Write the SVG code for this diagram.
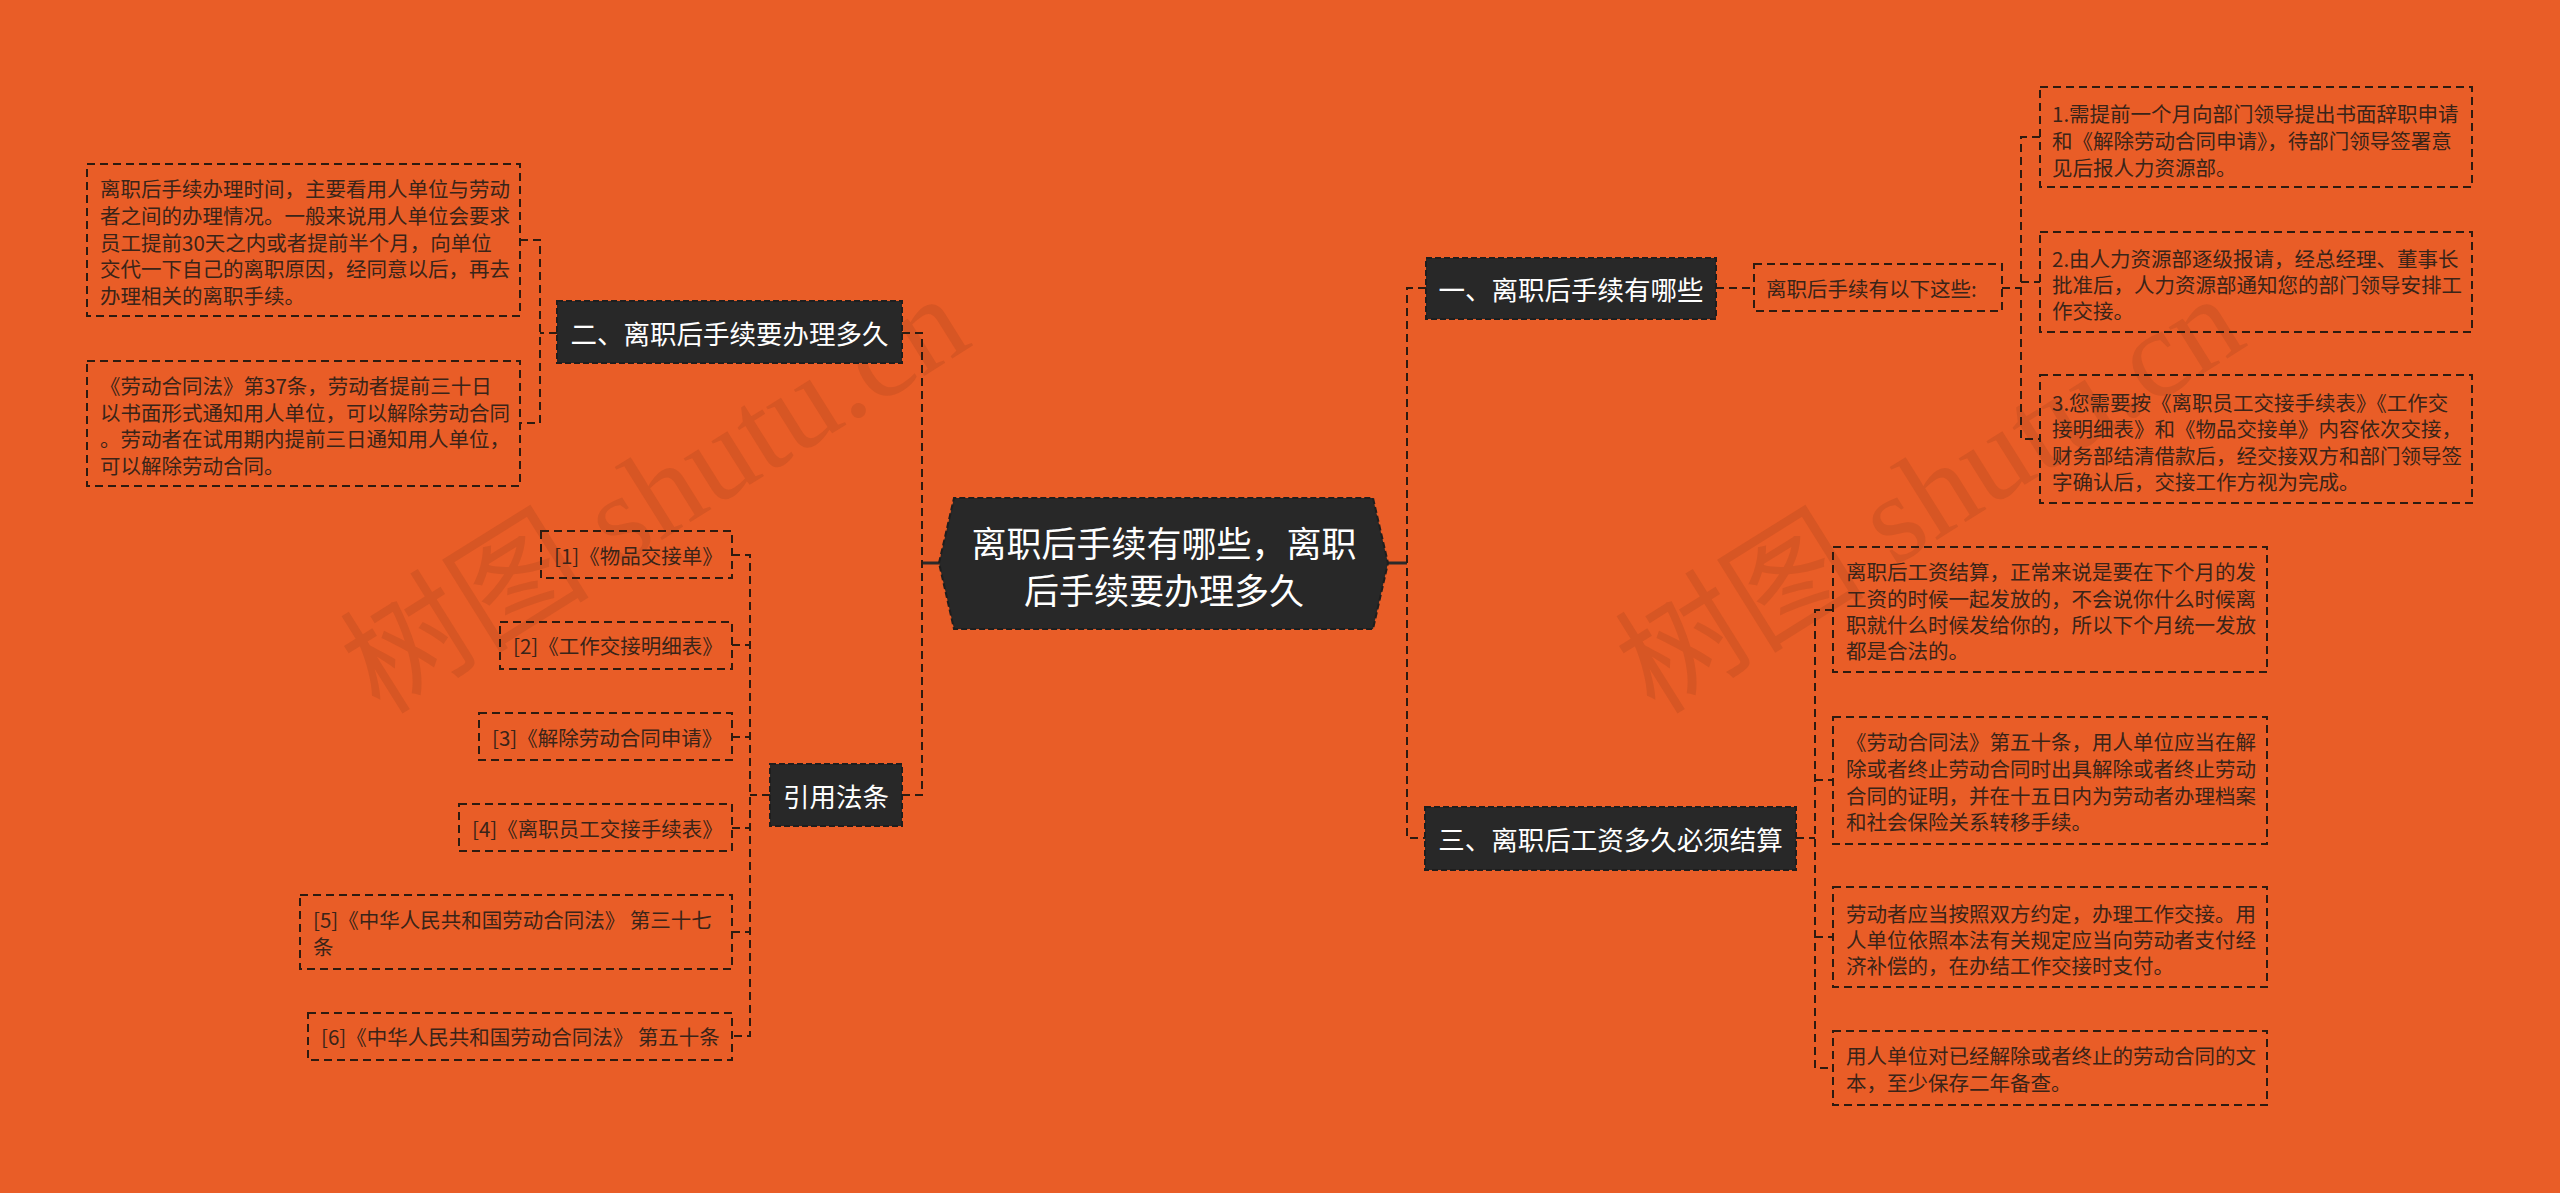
<svg xmlns="http://www.w3.org/2000/svg" width="2560" height="1193" viewBox="0 0 2560 1193">
<style>
.bg{fill:#E95D27}
.node{fill:#282828;stroke:#1e1e1e;stroke-width:2;stroke-dasharray:6 3}
.nt{fill:#ffffff;font-family:"Noto Sans CJK SC","Noto Sans",sans-serif;font-size:26.5px;text-anchor:middle;dominant-baseline:central}
.ct{fill:#ffffff;font-family:"Noto Sans CJK SC","Noto Sans",sans-serif;font-size:35px;text-anchor:middle;dominant-baseline:central}
.box{fill:none;stroke:#2e1b10;stroke-width:2;stroke-dasharray:8 5}
.bt{fill:#3a2418;font-family:"Noto Sans CJK SC","Noto Sans",sans-serif;font-size:20.5px;dominant-baseline:central}
.conn{fill:none;stroke:#2e1b10;stroke-width:2;stroke-dasharray:8 5}
.solid{fill:none;stroke:#2a2a2a;stroke-width:3}
.wm{fill:#a8441c;fill-opacity:0.28;font-family:"Liberation Serif","Noto Sans CJK SC",serif;font-size:125px}
</style>
<rect class="bg" x="0" y="0" width="2560" height="1193"/>

<g id="watermarks">
<text class="wm" x="380" y="716" transform="rotate(-32 380 716)">树图 shutu.cn</text>
<text class="wm" x="1655" y="716" transform="rotate(-32 1655 716)">树图 shutu.cn</text>
</g>

<g id="connectors">
<path class="solid" d="M939,563 H922"/>
<path class="solid" d="M1388,563 H1407"/>
<path class="conn" d="M902,333 H922 V795 H902"/>
<path class="conn" d="M557,333 H540"/>
<path class="conn" d="M520,240 H540 V423 H520"/>
<path class="conn" d="M770,795 H750"/>
<path class="conn" d="M732,555 H750 V1036 H732"/>
<path class="conn" d="M732,645 H750"/>
<path class="conn" d="M732,737 H750"/>
<path class="conn" d="M732,828 H750"/>
<path class="conn" d="M732,932 H750"/>
<path class="conn" d="M1426,288 H1407 V838 H1425"/>
<path class="conn" d="M1716,288 H1754"/>
<path class="conn" d="M2002,288 H2021"/>
<path class="conn" d="M2040,137 H2021 V439 H2040"/>
<path class="conn" d="M2021,282 H2040"/>
<path class="conn" d="M1796,838 H1815"/>
<path class="conn" d="M1833,610 H1815 V1068 H1833"/>
<path class="conn" d="M1815,780 H1833"/>
<path class="conn" d="M1815,937 H1833"/>
</g>

<g id="root">
<polygon class="node" points="939,563 954,498 1373,498 1388,563 1373,629 954,629"/>
<text class="ct" x="1164" y="541">离职后手续有哪些，离职</text>
<text class="ct" x="1164" y="588">后手续要办理多久</text>
</g>

<g id="n2">
<rect class="node" x="557" y="301" width="345" height="62"/>
<text class="nt" x="729.5" y="332">二、离职后手续要办理多久</text>
</g>
<g id="n2a">
<rect class="box" x="87" y="164" width="433" height="152"/>
<text class="bt" x="100" y="188">离职后手续办理时间，主要看用人单位与劳动</text>
<text class="bt" x="100" y="215">者之间的办理情况。一般来说用人单位会要求</text>
<text class="bt" x="100" y="242">员工提前30天之内或者提前半个月，向单位</text>
<text class="bt" x="100" y="268">交代一下自己的离职原因，经同意以后，再去</text>
<text class="bt" x="100" y="295">办理相关的离职手续。</text>
</g>
<g id="n2b">
<rect class="box" x="87" y="361" width="433" height="125"/>
<text class="bt" x="100" y="385">《劳动合同法》第37条，劳动者提前三十日</text>
<text class="bt" x="100" y="412">以书面形式通知用人单位，可以解除劳动合同</text>
<text class="bt" x="100" y="438">。劳动者在试用期内提前三日通知用人单位，</text>
<text class="bt" x="100" y="465">可以解除劳动合同。</text>
</g>

<g id="n4">
<rect class="node" x="770" y="764" width="132" height="62"/>
<text class="nt" x="836" y="795">引用法条</text>
</g>
<g id="c1">
<rect class="box" x="541" y="531" width="191" height="47"/>
<text class="bt" x="554" y="555">[1]《物品交接单》</text>
</g>
<g id="c2">
<rect class="box" x="500" y="622" width="232" height="47"/>
<text class="bt" x="513" y="645">[2]《工作交接明细表》</text>
</g>
<g id="c3">
<rect class="box" x="479" y="713" width="253" height="47"/>
<text class="bt" x="492" y="737">[3]《解除劳动合同申请》</text>
</g>
<g id="c4">
<rect class="box" x="459" y="804" width="273" height="47"/>
<text class="bt" x="472" y="828">[4]《离职员工交接手续表》</text>
</g>
<g id="c5">
<rect class="box" x="300" y="895" width="432" height="74"/>
<text class="bt" x="313" y="919">[5]《中华人民共和国劳动合同法》 第三十七</text>
<text class="bt" x="313" y="946">条</text>
</g>
<g id="c6">
<rect class="box" x="308" y="1013" width="424" height="47"/>
<text class="bt" x="321" y="1036">[6]《中华人民共和国劳动合同法》 第五十条</text>
</g>

<g id="n1">
<rect class="node" x="1426" y="258" width="290" height="61"/>
<text class="nt" x="1571" y="288">一、离职后手续有哪些</text>
</g>
<g id="n1a">
<rect class="box" x="1754" y="264" width="248" height="47"/>
<text class="bt" x="1766" y="288">离职后手续有以下这些:</text>
</g>
<g id="n1a1">
<rect class="box" x="2040" y="87" width="432" height="100"/>
<text class="bt" x="2052" y="113">1.需提前一个月向部门领导提出书面辞职申请</text>
<text class="bt" x="2052" y="140">和《解除劳动合同申请》，待部门领导签署意</text>
<text class="bt" x="2052" y="167">见后报人力资源部。</text>
</g>
<g id="n1a2">
<rect class="box" x="2040" y="232" width="432" height="100"/>
<text class="bt" x="2052" y="258">2.由人力资源部逐级报请，经总经理、董事长</text>
<text class="bt" x="2052" y="284">批准后，人力资源部通知您的部门领导安排工</text>
<text class="bt" x="2052" y="310">作交接。</text>
</g>
<g id="n1a3">
<rect class="box" x="2040" y="375" width="432" height="128"/>
<text class="bt" x="2052" y="402">3.您需要按《离职员工交接手续表》《工作交</text>
<text class="bt" x="2052" y="428">接明细表》和《物品交接单》内容依次交接，</text>
<text class="bt" x="2052" y="455">财务部结清借款后，经交接双方和部门领导签</text>
<text class="bt" x="2052" y="481">字确认后，交接工作方视为完成。</text>
</g>

<g id="n3">
<rect class="node" x="1425" y="807" width="371" height="63"/>
<text class="nt" x="1610.5" y="838">三、离职后工资多久必须结算</text>
</g>
<g id="n3a">
<rect class="box" x="1833" y="547" width="434" height="125"/>
<text class="bt" x="1846" y="571">离职后工资结算，正常来说是要在下个月的发</text>
<text class="bt" x="1846" y="598">工资的时候一起发放的，不会说你什么时候离</text>
<text class="bt" x="1846" y="624">职就什么时候发给你的，所以下个月统一发放</text>
<text class="bt" x="1846" y="650">都是合法的。</text>
</g>
<g id="n3b">
<rect class="box" x="1833" y="717" width="434" height="127"/>
<text class="bt" x="1846" y="741">《劳动合同法》第五十条，用人单位应当在解</text>
<text class="bt" x="1846" y="768">除或者终止劳动合同时出具解除或者终止劳动</text>
<text class="bt" x="1846" y="795">合同的证明，并在十五日内为劳动者办理档案</text>
<text class="bt" x="1846" y="821">和社会保险关系转移手续。</text>
</g>
<g id="n3c">
<rect class="box" x="1833" y="887" width="434" height="100"/>
<text class="bt" x="1846" y="913">劳动者应当按照双方约定，办理工作交接。用</text>
<text class="bt" x="1846" y="939">人单位依照本法有关规定应当向劳动者支付经</text>
<text class="bt" x="1846" y="965">济补偿的，在办结工作交接时支付。</text>
</g>
<g id="n3d">
<rect class="box" x="1833" y="1031" width="434" height="74"/>
<text class="bt" x="1846" y="1055">用人单位对已经解除或者终止的劳动合同的文</text>
<text class="bt" x="1846" y="1082">本，至少保存二年备查。</text>
</g>
</svg>
